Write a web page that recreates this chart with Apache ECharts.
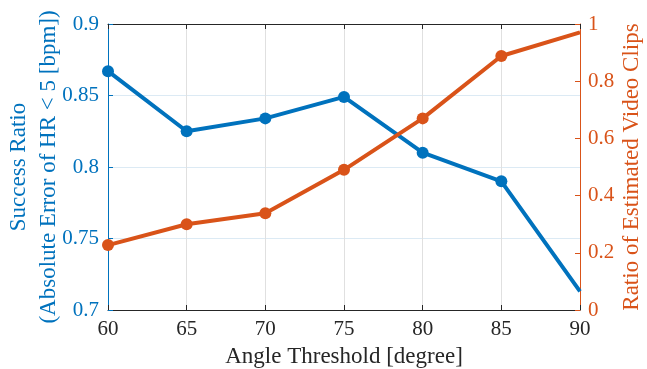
<!DOCTYPE html>
<html>
<head>
<meta charset="utf-8">
<script src="https://cdn.jsdelivr.net/npm/echarts@6/dist/echarts.min.js"></script>
<style>
  html, body { margin: 0; padding: 0; background: #fff; }
  #chart { width: 647px; height: 369px; }
</style>
</head>
<body>
<div id="chart"></div>
<script>
// angle thresholds (degree)
const angles = [60, 65, 70, 75, 80, 85, 90];
// left axis: success ratio
const successRatio = [0.867, 0.825, 0.834, 0.849, 0.810, 0.790, 0.713];
// right axis: ratio of estimated video clips
const clipRatio = [0.227, 0.300, 0.338, 0.490, 0.670, 0.888, 0.971];

const BLUE = '#0072BD';
const ORANGE = '#D95319';
const FONT = 'Liberation Serif';

// last point sits on the axis limit, no marker drawn there
const toData = (vals) => vals.map((v, i) => {
    const item = { value: [angles[i], v] };
    if (i === vals.length - 1) item.symbol = 'none';
    return item;
});

const chart = echarts.init(document.getElementById('chart'));
chart.setOption({
    animation: false,
    grid: { left: 108, right: 67, top: 24, bottom: 59, outerBoundsMode: 'none' },
    xAxis: [
        {
            type: 'value',
            min: 60, max: 90, interval: 5,
            name: 'Angle Threshold [degree]',
            nameLocation: 'middle',
            nameGap: 35,
            nameMoveOverlap: false,
            nameTextStyle: { color: '#262626', fontFamily: FONT, fontSize: 23 },
            axisLine: { lineStyle: { color: '#262626', width: 1 } },
            axisTick: { inside: true, length: 5, lineStyle: { color: '#262626' } },
            axisLabel: { color: '#262626', fontFamily: FONT, fontSize: 21, margin: 9 },
            splitLine: { show: true, lineStyle: { color: '#e0e0e0', width: 1 } }
        },
        {
            type: 'value',
            position: 'top',
            min: 60, max: 90, interval: 5,
            axisLine: { lineStyle: { color: '#262626', width: 1 } },
            axisTick: { inside: true, length: 5, lineStyle: { color: '#262626' } },
            axisLabel: { show: false },
            splitLine: { show: false }
        }
    ],
    yAxis: [
        {
            type: 'value',
            position: 'left',
            min: 0.7, max: 0.9, interval: 0.05,
            name: 'Success Ratio\n(Absolute Error of HR < 5 [bpm])',
            nameLocation: 'middle',
            nameRotate: 90,
            nameGap: 44,
            nameMoveOverlap: false,
            nameTextStyle: { color: BLUE, fontFamily: FONT, fontSize: 23, lineHeight: 30 },
            axisLine: { show: true, lineStyle: { color: BLUE, width: 1 } },
            axisTick: { show: true, inside: true, length: 5, lineStyle: { color: BLUE } },
            axisLabel: { color: BLUE, fontFamily: FONT, fontSize: 21, margin: 9,
                formatter: v => String(+v.toFixed(2)) },
            splitLine: { show: true, lineStyle: { color: '#dceaf4', width: 1 } }
        },
        {
            type: 'value',
            position: 'right',
            min: 0, max: 1, interval: 0.2,
            name: 'Ratio of Estimated Video Clips',
            nameLocation: 'middle',
            nameRotate: 90,
            nameGap: 40,
            nameMoveOverlap: false,
            nameTextStyle: { color: ORANGE, fontFamily: FONT, fontSize: 23 },
            axisLine: { show: true, lineStyle: { color: ORANGE, width: 1 } },
            axisTick: { show: true, inside: true, length: 5, lineStyle: { color: ORANGE } },
            axisLabel: { color: ORANGE, fontFamily: FONT, fontSize: 21, margin: 8,
                formatter: v => String(+v.toFixed(1)) },
            splitLine: { show: false }
        }
    ],
    series: [
        {
            name: 'Success Ratio',
            type: 'line',
            xAxisIndex: 0,
            yAxisIndex: 0,
            data: toData(successRatio),
            symbol: 'circle',
            symbolSize: 12,
            lineStyle: { color: BLUE, width: 4 },
            itemStyle: { color: BLUE },
            z: 3
        },
        {
            name: 'Ratio of Estimated Video Clips',
            type: 'line',
            xAxisIndex: 0,
            yAxisIndex: 1,
            data: toData(clipRatio),
            symbol: 'circle',
            symbolSize: 12,
            lineStyle: { color: ORANGE, width: 4 },
            itemStyle: { color: ORANGE },
            z: 4
        }
    ]
});
</script>
</body>
</html>
